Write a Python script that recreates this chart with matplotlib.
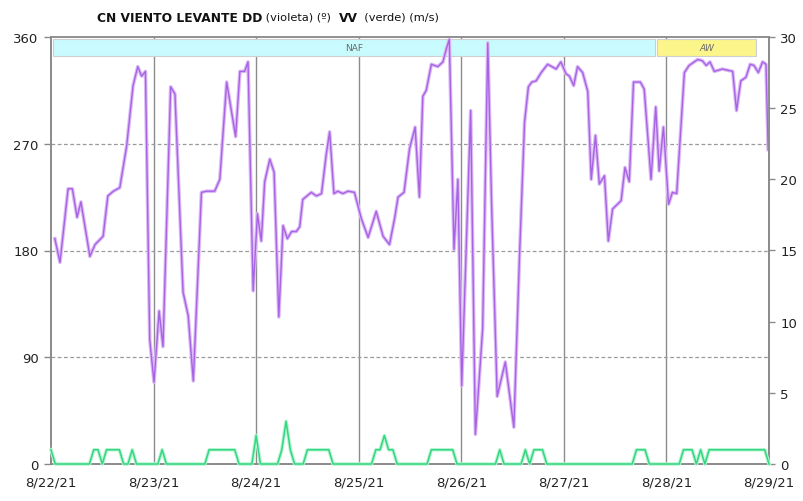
import matplotlib
matplotlib.use("Agg")
import matplotlib.pyplot as plt
from matplotlib.patches import Rectangle

# ---------------- data ----------------
day_labels = ["8/22/21", "8/23/21", "8/24/21", "8/25/21", "8/26/21", "8/27/21", "8/28/21", "8/29/21"]

# wind direction (degrees), time in hours since 8/22/21 00:00
dd_hours = [0.9, 2.1, 4.0, 5.0, 6.1, 7.0, 9.1, 10.3, 12.2, 13.3, 14.6, 16.1, 17.7, 19.2, 20.3, 21.2, 22.1,
            23.1, 24.1, 25.3, 26.2, 28.0, 29.0, 30.9, 32.1, 33.3, 35.2, 36.4, 38.3, 39.5, 41.1, 43.2, 44.2,
            45.3, 46.1, 47.3, 48.3, 49.2, 50.0, 51.2, 52.2, 53.3, 54.3, 55.3, 56.3, 57.4, 58.2, 58.9, 60.9,
            62.1, 63.3, 64.4, 65.2, 66.2, 67.1, 68.3, 69.5, 71.0, 72.6, 74.2, 76.1, 77.7, 79.2, 80.4, 81.2,
            82.6, 83.9, 85.2, 86.2, 87.0, 87.8, 89.0, 90.5, 91.7, 92.5, 93.2, 94.3, 95.2, 96.1, 98.2, 99.3,
            101.0, 102.2, 103.1, 104.4, 106.3, 108.3, 109.6, 110.8, 111.7, 112.5, 113.5, 114.7, 116.2, 118.2,
            119.3, 120.5, 121.3, 122.3, 123.2, 124.4, 125.6, 126.4, 127.4, 128.3, 129.5, 130.4, 131.4, 133.4,
            134.3, 135.3, 136.3, 137.9, 138.8, 140.4, 141.5, 142.3, 143.3, 144.5, 145.4, 146.4, 148.2, 149.3,
            151.3, 152.4, 153.3, 154.2, 155.2, 157.1, 159.5, 160.4, 161.4, 162.6, 163.6, 164.5, 165.5, 166.5,
            167.3, 167.8]
dd_deg = [190, 170, 232, 232, 208, 221, 175, 185, 192, 226, 230, 233, 268, 319, 335, 327, 331,
          105, 69, 129, 99, 318, 312, 145, 125, 70, 229, 230, 230, 240, 322, 276, 331,
          331, 339, 146, 211, 188, 238, 257, 246, 124, 201, 190, 196, 196, 200, 223, 229,
          226, 228, 261, 280, 228, 230, 228, 230, 229, 207, 191, 213, 192, 185, 207, 225,
          229, 266, 284, 225, 310, 315, 337, 335, 339, 350, 358, 181, 240, 66, 298, 25,
          114, 355, 218, 57, 86, 31, 173, 288, 318, 322, 323, 330, 337, 333,
          339, 329, 327, 319, 335, 330, 314, 240, 277, 236, 243, 188, 215, 222,
          250, 238, 322, 322, 316, 240, 301, 247, 284, 219, 229, 228, 330, 336,
          341, 340, 336, 339, 331, 333, 331, 298, 323, 326, 337, 336, 330, 339,
          337, 265]

# wind speed (m/s), hourly
vv_ms = [1, 0, 0, 0, 0, 0, 0, 0, 0, 0,
         1, 1, 0, 1, 1, 1, 1, 0, 0, 1,
         0, 0, 0, 0, 0, 0, 1, 0, 0, 0,
         0, 0, 0, 0, 0, 0, 0, 1, 1, 1,
         1, 1, 1, 1, 0, 0, 0, 0, 2, 0,
         0, 0, 0, 0, 1, 3, 1, 0, 0, 0,
         1, 1, 1, 1, 1, 1, 0, 0, 0, 0,
         0, 0, 0, 0, 0, 0, 1, 1, 2, 1,
         1, 0, 0, 0, 0, 0, 0, 0, 0, 1,
         1, 1, 1, 1, 1, 0, 0, 0, 0, 0,
         0, 0, 0, 0, 0, 1, 0, 0, 0, 0,
         0, 1, 0, 1, 1, 1, 0, 0, 0, 0,
         0, 0, 0, 0, 0, 0, 0, 0, 0, 0,
         0, 0, 0, 0, 0, 0, 0, 1, 1, 1,
         0, 0, 0, 0, 0, 0, 0, 0, 1, 1,
         1, 0, 1, 0, 1, 1, 1, 1, 1, 1,
         1, 1, 1, 1, 1, 1, 1, 1, 0]
vv_hours = list(range(len(vv_ms)))

# air-mass bands: (label, start hour, end hour, colour)
band_labels = ["NAF", "AW"]
band_start = [0.5, 141.9]
band_end = [141.4, 165.0]
band_colors = ["#c8fbfd", "#fbf58a"]

# ---------------- figure ----------------
W, H = 804, 502
fig = plt.figure(figsize=(W / 100, H / 100), dpi=100)
ax = fig.add_axes([51 / W, 1 - 465 / H, (769 - 51) / W, (465 - 38) / H])
ax2 = ax.twinx()

ax.set_xlim(0, 168)
ax.set_ylim(0, 360)
ax2.set_ylim(0, 30)

grid_c = "#8c8c8c"
for d in range(1, 7):
    ax.axvline(d * 24, color=grid_c, lw=1.0, zorder=1)
for v in (90, 180, 270):
    ax.axhline(v, color="#9a9a9a", lw=0.9, ls=(0, (3, 2)), zorder=1)

# bands
for lab, s, e, c in zip(band_labels, band_start, band_end, band_colors):
    ax.add_patch(Rectangle((s, 344), e - s, 14.5, facecolor=c, edgecolor="#cfcfcf",
                           lw=0.8, zorder=2))
    ax.text((s + e) / 2, 351.2, lab, ha="center", va="center", fontsize=6.5,
            color="#6a6a6a", zorder=3, style="italic" if lab == "AW" else "normal")

# purple line
ax.plot(dd_hours, dd_deg, color="#dcbaf7", lw=2.6, zorder=4, solid_joinstyle="round")
ax.plot(dd_hours, dd_deg, color="#a763e3", lw=1.0, zorder=5, solid_joinstyle="round")

# green line
ax2.plot(vv_hours, vv_ms, color="#b5f5d3", lw=2.6, zorder=4, clip_on=False)
ax2.plot(vv_hours, vv_ms, color="#35d67f", lw=1.1, zorder=5, clip_on=False)

# axes styling
for a in (ax, ax2):
    for sp in a.spines.values():
        sp.set_color("#8a8a8a")
        sp.set_linewidth(1.2)
ax.spines["top"].set_color("#b0b0b0")

ax.set_xticks([d * 24 for d in range(8)])
ax.set_xticklabels(day_labels, fontsize=9.5, color="#222222")
ax.tick_params(axis="x", length=0, pad=8)
ax.set_yticks([0, 90, 180, 270, 360])
ax.tick_params(axis="y", length=5, width=1, color="#8a8a8a", labelsize=9.5, labelcolor="#222222", pad=4)
ax2.set_yticks([0, 5, 10, 15, 20, 25, 30])
ax2.tick_params(axis="y", length=4, width=1, color="#8a8a8a", labelsize=9.5, labelcolor="#222222", pad=4)

# title in pieces
fig.canvas.draw()
r = fig.canvas.get_renderer()
pieces = [("CN VIENTO LEVANTE DD", "bold", 8.8), (" (violeta) (º)  ", "normal", 8.2),
          ("VV", "bold", 8.8), ("  (verde) (m/s)", "normal", 8.2)]
x = 97
for txt, wt, fs in pieces:
    t = fig.text(x / W, 1 - 18 / H, txt, fontsize=fs, fontweight=wt, color="#111111",
                 ha="left", va="center")
    bb = t.get_window_extent(renderer=r)
    x += bb.width

fig.savefig("out.png", dpi=100)
